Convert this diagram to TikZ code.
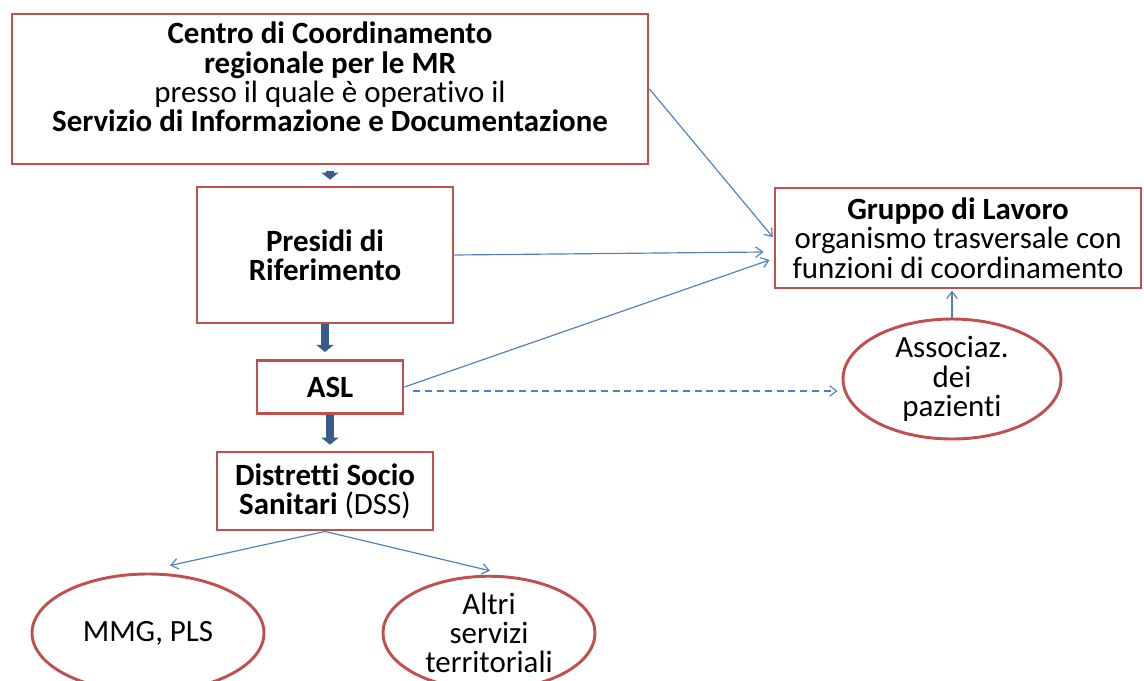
\documentclass[tikz,border=0pt]{standalone}
\usepackage{fontspec}
\setmainfont{Carlito}[Ligatures=NoCommon]
\usetikzlibrary{arrows.meta, calc, shapes.geometric}
\definecolor{boxred}{RGB}{192,80,77}
\definecolor{lineblue}{RGB}{79,129,189}
\definecolor{fatblue}{RGB}{56,93,138}

\begin{document}
\begin{tikzpicture}[x=0.03cm, y=-0.03cm,
	every node/.style={font=\fontsize{26.4}{25}\selectfont, align=center, inner sep=0pt},
	ente/.style args={#1/#2}{draw=boxred, line width=2.5pt, minimum width={#1*0.03cm}, minimum height={#2*0.03cm}},
	ovale/.style args={#1/#2}{ente={#1}/{#2}, ellipse},
	spinta/.style={draw=fatblue, line width=6.5pt, -{Triangle[width=14.5pt, length=6pt]}},
	freccia/.style={draw=lineblue, line width=1pt, -{Straight Barb[length=6pt, width=9pt]}},
	tratteggio/.style={freccia, dash pattern=on 6pt off 4pt}]
		\useasboundingbox (0,0) rectangle (1144,681);
		\node[ente=636/150] (centro) at (330,89) {};
		\node (centrotesto) at (330,77) {\textbf{Centro di Coordinamento}\\ \textbf{regionale per le MR}\\ presso il quale è operativo il\\ \textbf{Servizio di Informazione e Documentazione}};
		\node[ente=256/136] (presidi) at (325,255) {\textbf{Presidi di}\\ \textbf{Riferimento}};
		\node[ente=146/53] (asl) at (330,387) {\textbf{ASL}};
		\node[ente=216/78] (dss) at (325,491) {\textbf{Distretti Socio}\\ \textbf{Sanitari} (DSS)};
		\node[ente=366/100] (gruppo) at (958,238) {\textbf{Gruppo di Lavoro}\\ organismo trasversale con\\ funzioni di coordinamento};
		\node[ovale=218/98] (assoc) at (952,379) {Associaz.\\ dei\\ pazienti};
		\node[ovale=232/118] (mmg) at (148,633) {MMG, PLS};
		\node[ovale=212/106] (altri) at (489,633) {Altri\\ servizi\\ territoriali};
		\draw[spinta, shorten <=5pt, shorten >=5pt] (centro.south) -- (centro.south |- presidi.north);
		\draw[spinta, shorten >=6pt] (presidi.south) -- (presidi.south |- asl.north);
		\draw[spinta, shorten >=5pt] (asl.south) -- (asl.south |- dss.north);
		\draw[freccia, shorten >=1pt] (centro.east) -- (gruppo.west);
		\draw[freccia] (presidi.east) -- ($(gruppo.west)+(-10,14)$);
		\draw[freccia] (asl.east) -- ($(gruppo.west)+(-4,22)$);
		\draw[tratteggio] ($(asl.east)+(9,4)$) -- ($(assoc.west)+(-4,12)$);
		\draw[freccia, shorten >=1pt] (assoc.north) -- (assoc.north |- gruppo.south);
		\draw[freccia] (dss.south) -- ($(mmg.north)+(22,-7)$);
		\draw[freccia] (dss.south) -- ($(altri.north)+(1,-4)$);
	\end{tikzpicture}
\end{document}
